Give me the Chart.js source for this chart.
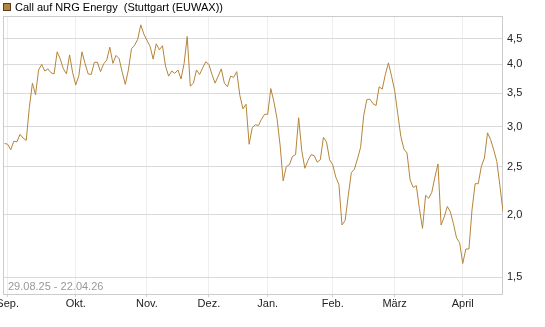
<!DOCTYPE html>
<html>
<head>
<meta charset="utf-8">
<script src="https://cdn.jsdelivr.net/npm/chart.js@4.4.1/dist/chart.umd.min.js"></script>
<style>
  body { margin: 0; background: #fff; }
</style>
</head>
<body>
<canvas id="chart" width="545" height="327"></canvas>
<script>
// one value per trading day, 29.08.25 .. 22.04.26
var prices = [
  2.78, 2.77, 2.70, 2.81, 2.80, 2.90, 2.85, 2.82, 3.28, 3.67,
  3.48, 3.90, 4.00, 3.88, 3.92, 3.85, 3.83, 4.24, 4.10, 3.92,
  3.83, 4.18, 3.85, 3.64, 3.80, 4.24, 4.02, 3.83, 3.82, 4.04,
  4.04, 3.87, 4.01, 4.08, 4.33, 4.02, 4.17, 4.11, 3.86, 3.65,
  3.90, 4.30, 4.37, 4.49, 4.80, 4.60, 4.47, 4.35, 4.10, 4.40,
  4.28, 4.36, 3.97, 3.79, 3.88, 3.84, 3.90, 3.74, 4.02, 4.55,
  3.62, 3.67, 3.90, 3.82, 3.94, 4.05, 4.00, 3.82, 3.67, 3.79,
  3.92, 3.67, 3.61, 3.79, 3.77, 3.87, 3.47, 3.26, 3.33, 2.77,
  2.99, 3.03, 3.02, 3.11, 3.18, 3.18, 3.58, 3.37, 3.12, 2.76,
  2.34, 2.50, 2.52, 2.62, 2.64, 3.13, 2.69, 2.48, 2.57, 2.64,
  2.63, 2.55, 2.58, 2.86, 2.80, 2.58, 2.52, 2.38, 2.30, 1.91,
  1.95, 2.18, 2.43, 2.47, 2.59, 2.73, 3.16, 3.40, 3.41, 3.34,
  3.31, 3.61, 3.57, 3.82, 4.03, 3.79, 3.55, 3.19, 2.87, 2.71,
  2.66, 2.35, 2.27, 2.29, 2.06, 1.88, 2.19, 2.16, 2.22, 2.38,
  2.53, 1.91, 1.98, 2.08, 2.03, 1.92, 1.80, 1.76, 1.60, 1.71,
  1.71, 2.05, 2.31, 2.31, 2.50, 2.60, 2.92, 2.83, 2.70, 2.56,
  2.29, 2.03
];

// index of the first trading day of each month
var monthStarts = [1, 23, 46, 66, 85, 106, 126, 148];
var monthLabels = ["Sep.", "Okt.", "Nov.", "Dez.", "Jan.", "Feb.", "März", "April"];

var yTicks = [1.5, 2.0, 2.5, 3.0, 3.5, 4.0, 4.5];

var seriesName = "Call auf NRG Energy  (Stuttgart (EUWAX))";
var rangeText = "29.08.25 - 22.04.26";

var lineColor = "#b5843a";
var fontFamily = "'Liberation Sans', Arial, sans-serif";

var points = prices.map(function (p, i) { return { x: i, y: p }; });

var framePlugin = {
  id: 'frame',
  beforeDatasetsDraw: function (chart) {
    var a = chart.chartArea, c = chart.ctx;
    c.save();
    c.strokeStyle = '#cccccc';
    c.lineWidth = 1;
    c.strokeRect(Math.round(a.left) + 0.5, Math.round(a.top) + 0.5,
      Math.round(a.right - a.left) - 1, Math.round(a.bottom - a.top));
    c.restore();
  },
  afterDraw: function (chart) {
    var a = chart.chartArea, c = chart.ctx;
    c.save();
    // legend
    c.fillStyle = lineColor;
    c.fillRect(3, 3, 8, 8);
    c.strokeStyle = '#5a4020';
    c.lineWidth = 1;
    c.strokeRect(3.5, 3.5, 7, 7);
    c.fillStyle = '#000';
    c.font = '11px ' + fontFamily;
    c.textBaseline = 'middle';
    c.fillText(seriesName, 15, 8);
    // date range
    c.fillStyle = '#999';
    c.fillText(rangeText, a.left + 5, a.bottom - 7);
    c.restore();
  }
};

new Chart(document.getElementById('chart'), {
  type: 'line',
  data: {
    datasets: [{
      label: seriesName,
      data: points,
      borderColor: lineColor,
      borderWidth: 1,
      pointRadius: 0,
      tension: 0,
      fill: false
    }]
  },
  options: {
    responsive: false,
    animation: false,
    layout: { padding: { left: 3, top: 16, right: 0, bottom: 0 } },
    plugins: {
      legend: { display: false },
      tooltip: { enabled: false }
    },
    scales: {
      x: {
        type: 'linear',
        min: -0.5,
        max: 161,
        afterBuildTicks: function (scale) {
          scale.ticks = monthStarts.map(function (v) { return { value: v }; });
        },
        afterFit: function (scale) {
          scale.height = 33;
          scale.paddingLeft = 0;
          scale.paddingRight = 0;
        },
        grid: {
          color: '#eeeeee',
          tickColor: '#cccccc',
          tickLength: 3
        },
        border: { display: false },
        ticks: {
          autoSkip: false,
          maxRotation: 0,
          padding: 0,
          color: '#222',
          font: { size: 11, family: fontFamily },
          callback: function (v) {
            var k = monthStarts.indexOf(v);
            return k >= 0 ? monthLabels[k] : '';
          }
        }
      },
      y: {
        type: 'logarithmic',
        position: 'right',
        min: 1.39,
        max: 5.0,
        afterBuildTicks: function (scale) {
          scale.ticks = yTicks.map(function (v) { return { value: v }; });
        },
        afterFit: function (scale) {
          scale.width = 42;
        },
        grid: {
          color: '#dadada',
          drawTicks: false
        },
        border: { display: false },
        ticks: {
          padding: 4,
          color: '#222',
          font: { size: 11, family: fontFamily },
          callback: function (v) {
            return v.toFixed(1).replace('.', ',');
          }
        }
      }
    }
  },
  plugins: [framePlugin]
});
</script>
</body>
</html>
